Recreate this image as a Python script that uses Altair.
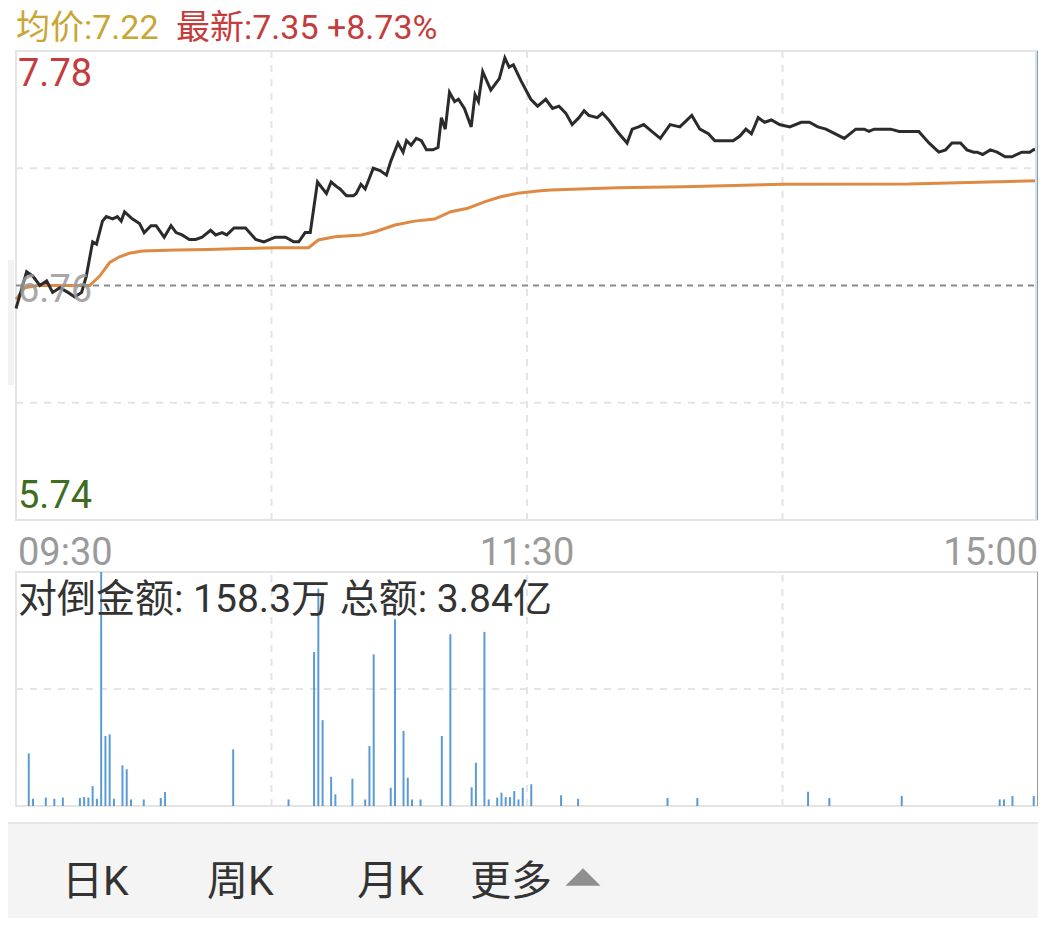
import altair as alt
import pandas as pd

# ---------------- data ----------------
price_min = [0, 2.5, 4.0, 5.6, 7.2, 8.6, 10.3, 12.2, 13.8, 15.4, 16.5, 18.0, 18.9, 20.3, 21.2, 22.7, 23.8, 24.7,
             25.5, 27.3, 29.0, 30.1, 31.7, 32.9, 34.8, 36.4, 37.6, 39.0, 40.7, 42.2, 43.7, 45.7, 46.9, 48.4, 49.5,
             51.2, 53.9, 56.3, 58.2, 60.9, 63.3, 65.2, 66.4, 67.9, 69.1, 70.8, 72.9, 74.0, 75.3, 76.1, 77.6, 79.2,
             79.9, 81.0, 82.0, 83.9, 85.5, 87.0, 88.0, 89.7, 90.9, 91.7, 92.8, 94.0, 95.2, 96.4, 97.9, 99.1, 99.9,
             100.8, 101.8, 103.0, 103.9, 105.3, 106.9, 107.8, 108.6, 109.6, 111.5, 113.5, 114.8, 115.8, 116.8,
             118.6, 120.9, 122.5, 124.4, 126.0, 127.5, 129.1, 130.6, 132.2, 133.4, 134.5, 136.5, 137.7, 139.2,
             141.2, 143.5, 144.7, 146.2, 147.4, 149.3, 151.3, 153.6, 155.9, 158.7, 160.6, 162.6, 164.1, 166.1,
             168.4, 170.0, 171.4, 172.7, 174.3, 175.8, 177.4, 179.3, 181.7, 184.4, 186.3, 188.3, 190.2, 194.5,
             197.2, 199.2, 200.3, 201.5, 205.4, 207.4, 208.5, 209.3, 210.1, 212.0, 214.4, 216.7, 218.3, 219.8,
             221.8, 223.3, 224.9, 225.7, 227.0, 228.8, 230.4, 232.3, 233.9, 236.2, 238.1, 238.9, 240]
price_val = [6.66, 6.82, 6.80, 6.76, 6.78, 6.73, 6.75, 6.73, 6.71, 6.73, 6.80, 6.95, 6.94, 7.04, 7.06, 7.05, 7.06, 7.04,
             7.08, 7.05, 7.03, 6.99, 7.02, 7.02, 6.97, 7.02, 6.99, 6.98, 6.96, 6.96, 6.97, 7.00, 6.98, 6.99, 6.98,
             7.01, 7.01, 6.96, 6.95, 6.97, 6.97, 6.95, 6.95, 6.99, 6.99, 7.21, 7.16, 7.21, 7.19, 7.18, 7.15, 7.15,
             7.16, 7.20, 7.18, 7.27, 7.26, 7.24, 7.30, 7.38, 7.34, 7.39, 7.37, 7.40, 7.39, 7.35, 7.35, 7.36, 7.49,
             7.44, 7.60, 7.56, 7.57, 7.53, 7.45, 7.59, 7.56, 7.69, 7.61, 7.66, 7.75, 7.71, 7.72,
             7.65, 7.57, 7.54, 7.57, 7.53, 7.54, 7.51, 7.46, 7.49, 7.52, 7.50, 7.49, 7.51, 7.48,
             7.43, 7.38, 7.44, 7.45, 7.46, 7.43, 7.40, 7.46, 7.45, 7.50, 7.44, 7.42, 7.39, 7.39,
             7.39, 7.41, 7.44, 7.42, 7.49, 7.47, 7.48, 7.46, 7.45, 7.47, 7.47, 7.45, 7.44, 7.40,
             7.44, 7.44, 7.43, 7.44, 7.44, 7.43, 7.43, 7.43, 7.43, 7.43, 7.38, 7.34, 7.35, 7.38,
             7.38, 7.35, 7.34, 7.34, 7.33, 7.35, 7.34, 7.32, 7.32, 7.34, 7.34, 7.35, 7.35]

avg_min = [0, 2, 5, 17.3, 19.6, 22.0, 24.3, 26.6, 29.7, 37.6, 45.3, 53.0, 61.0, 68.7, 71.0, 74.9, 81.1, 84.3,
           89.0, 93.6, 98.3, 102.1, 106.1, 110.0, 113.8, 117.8, 122.5, 125.5, 141.2, 156.7, 180.1, 209.6, 240]
avg_val = [6.70, 6.75, 6.76, 6.76, 6.80, 6.86, 6.885, 6.90, 6.91, 6.914, 6.917, 6.921, 6.924, 6.924, 6.958,
           6.972, 6.98, 6.994, 7.023, 7.04, 7.049, 7.081, 7.096, 7.124, 7.146, 7.161, 7.171, 7.175, 7.185,
           7.19, 7.20, 7.201, 7.216]

vol_min = [3, 4, 7, 9, 11, 15, 16, 17, 18, 19, 20, 21, 22, 23, 25, 26, 27, 30, 34, 35, 51, 64, 70, 71, 72, 74, 75,
           79, 82, 83, 84, 88, 89, 91, 92, 93, 95, 100, 102, 107, 108, 110, 111, 113, 114, 115, 116, 117, 118,
           119, 121, 128, 132, 153, 160, 186, 191, 208, 231, 232, 234, 239]
vol_val = [22.5, 3.1, 3.6, 3.1, 3.6, 3.4, 3.8, 3.6, 8.5, 3.1, 100, 29.9, 30.6, 3.1, 17.4, 15.7, 2.8, 2.8, 3.4,
           6.0, 24.2, 2.8, 65.8, 92.9, 36.7, 12.5, 5.0, 11.7, 2.8, 25.6, 64.8, 7.8, 79.8, 32.1, 12.1, 2.8, 2.8,
           29.9, 73.4, 8.0, 18.5, 74.4, 2.8, 3.6, 5.7, 3.8, 3.8, 6.4, 2.8, 7.8, 9.3, 4.6, 3.1, 3.4, 3.4, 6.1,
           3.4, 4.3, 2.8, 2.8, 4.3, 4.3]

time_ticks = [0, 120, 240]
time_labels = ["09:30", "11:30", "15:00"]
price_top, price_mid, price_bot = 7.78, 6.76, 5.74
price_grid = [7.27, 6.25]
minute_grid = [60, 120, 180]

header_avg = "均价:7.22"
header_last = "最新:7.35 +8.73%"
vol_title = "对倒金额: 158.3万 总额: 3.84亿"
tabs = ["日K", "周K", "月K", "更多"]

# ---------------- layout ----------------
W, H = 1022, 755
PH = 469            # price panel height (pixels)
VT, VB = 521, 755   # volume panel top / bottom (pixels)
FONT = "Roboto, 'Noto Sans CJK SC', sans-serif"

xs = alt.Scale(domain=[0, 240], range=[0, W], nice=False, zero=False)
ps = alt.Scale(domain=[price_bot, price_top], range=[PH, 0], nice=False, zero=False)
vs = alt.Scale(domain=[0, 100], range=[VB, VT], nice=False, zero=False)

price_df = pd.DataFrame({"m": price_min, "p": price_val})
avg_df = pd.DataFrame({"m": avg_min, "p": avg_val})
vol_df = pd.DataFrame({"m": vol_min, "v": vol_val, "z": [0] * len(vol_min)})

layers = []

# footer bar
layers.append(alt.Chart(pd.DataFrame({"a": [0]})).mark_rect(color="#f4f4f4").encode(
    x=alt.value(-8), x2=alt.value(W + 10), y=alt.value(772), y2=alt.value(880)))
layers.append(alt.Chart(pd.DataFrame({"a": [0]})).mark_rule(color="#e6e6e6", strokeWidth=2).encode(
    x=alt.value(-8), x2=alt.value(W + 10), y=alt.value(772)))
layers.append(alt.Chart(pd.DataFrame({"a": [0]})).mark_rect(color="#f2f2f2").encode(
    x=alt.value(-8), x2=alt.value(-2), y=alt.value(209), y2=alt.value(334)))

# panel frames
frame_p = pd.DataFrame({"x0": [0], "x1": [240], "y0": [price_bot], "y1": [price_top]})
layers.append(alt.Chart(frame_p).mark_rect(fillOpacity=0, stroke="#e4e4e4", strokeWidth=2).encode(
    x=alt.X("x0:Q", scale=xs, axis=None), x2="x1:Q",
    y=alt.Y("y0:Q", scale=ps, axis=None), y2="y1:Q"))
frame_v = pd.DataFrame({"x0": [0], "x1": [240], "y0": [0], "y1": [100]})
layers.append(alt.Chart(frame_v).mark_rect(fillOpacity=0, stroke="#e4e4e4", strokeWidth=2).encode(
    x=alt.X("x0:Q", scale=xs, axis=None), x2="x1:Q",
    y=alt.Y("y0:Q", scale=vs, axis=None), y2="y1:Q"))

# grid lines
layers.append(alt.Chart(pd.DataFrame({"p": price_grid})).mark_rule(
    color="#e4e4e4", strokeWidth=2, strokeDash=[7, 7]).encode(
    x=alt.value(0), x2=alt.value(W), y=alt.Y("p:Q", scale=ps, axis=None)))
layers.append(alt.Chart(pd.DataFrame({"v": [50]})).mark_rule(
    color="#e4e4e4", strokeWidth=2, strokeDash=[7, 7]).encode(
    x=alt.value(0), x2=alt.value(W), y=alt.Y("v:Q", scale=vs, axis=None)))
vg = pd.DataFrame({"m": minute_grid, "a": [price_bot] * 3, "b": [price_top] * 3})
layers.append(alt.Chart(vg).mark_rule(color="#e4e4e4", strokeWidth=2, strokeDash=[7, 7]).encode(
    x=alt.X("m:Q", scale=xs, axis=None), y=alt.Y("a:Q", scale=ps, axis=None), y2="b:Q"))
vg2 = pd.DataFrame({"m": minute_grid, "a": [0] * 3, "b": [100] * 3})
layers.append(alt.Chart(vg2).mark_rule(color="#e4e4e4", strokeWidth=2, strokeDash=[7, 7]).encode(
    x=alt.X("m:Q", scale=xs, axis=None), y=alt.Y("a:Q", scale=vs, axis=None), y2="b:Q"))
layers.append(alt.Chart(pd.DataFrame({"p": [price_mid]})).mark_rule(
    color="#8a8a8a", strokeWidth=2, strokeDash=[6, 5]).encode(
    x=alt.value(0), x2=alt.value(W), y=alt.Y("p:Q", scale=ps, axis=None)))

# volume bars
layers.append(alt.Chart(vol_df).mark_rule(color="#5b9bd5", strokeWidth=2).encode(
    x=alt.X("m:Q", scale=xs, axis=None),
    y=alt.Y("z:Q", scale=vs, axis=None), y2="v:Q"))

# average & price lines
layers.append(alt.Chart(avg_df).mark_line(color="#de8a45", strokeWidth=3).encode(
    x=alt.X("m:Q", scale=xs, axis=None), y=alt.Y("p:Q", scale=ps, axis=None)))
layers.append(alt.Chart(price_df).mark_line(color="#2b2b2b", strokeWidth=3).encode(
    x=alt.X("m:Q", scale=xs, axis=None), y=alt.Y("p:Q", scale=ps, axis=None)))

# cursor at the right edge
cur = pd.DataFrame({"m": [240], "a": [price_bot], "b": [price_top]})
layers.append(alt.Chart(cur).mark_rule(color="#c9e5f8", strokeWidth=6).encode(
    x=alt.X("m:Q", scale=xs, axis=None), y=alt.Y("a:Q", scale=ps, axis=None), y2="b:Q"))
layers.append(alt.Chart(cur).mark_rule(color="#9a9a9a", strokeWidth=2).encode(
    x=alt.X("m:Q", scale=xs, axis=None), y=alt.Y("a:Q", scale=ps, axis=None), y2="b:Q"))
cur2 = pd.DataFrame({"m": [240], "a": [0], "b": [100]})
layers.append(alt.Chart(cur2).mark_rule(color="#9a9a9a", strokeWidth=2).encode(
    x=alt.X("m:Q", scale=xs, axis=None), y=alt.Y("a:Q", scale=vs, axis=None), y2="b:Q"))

# price labels
def ptxt(val, label, color, baseline, dy, opacity=1.0):
    return alt.Chart(pd.DataFrame({"p": [val], "t": [label]})).mark_text(
        font=FONT, fontSize=38, color=color, align="left", baseline=baseline, dy=dy,
        opacity=opacity).encode(
        x=alt.value(2), y=alt.Y("p:Q", scale=ps, axis=None), text="t:N")

layers.append(ptxt(price_top, f"{price_top:.2f}", "#c43c3c", "top", 5))
layers.append(ptxt(price_mid, f"{price_mid:.2f}", "#9a9a9a", "middle", 5, 0.85))
layers.append(ptxt(price_bot, f"{price_bot:.2f}", "#3e6d1f", "alphabetic", -12))

# time labels
for m, lab, al in zip(time_ticks, time_labels, ["left", "center", "right"]):
    layers.append(alt.Chart(pd.DataFrame({"m": [m], "t": [lab]})).mark_text(
        font=FONT, fontSize=38, color="#9a9a9a", align=al, baseline="alphabetic",
        dx=2 if al == "left" else 0).encode(
        x=alt.X("m:Q", scale=xs, axis=None), y=alt.value(514), text="t:N"))

# header texts
def vtxt(txt, x, y, color, size, align="left"):
    return alt.Chart(pd.DataFrame({"t": [txt]})).mark_text(
        font=FONT, fontSize=size, color=color, align=align, baseline="alphabetic").encode(
        x=alt.value(x), y=alt.value(y), text="t:N")

layers.append(vtxt(header_avg, 0, -12, "#c9a534", 34))
layers.append(vtxt(header_last, 160, -12, "#c43c3c", 34))
layers.append(vtxt(vol_title, 2, 561, "#333333", 39))

# footer tabs
for t, x in zip(tabs, [46, 191, 341, 454]):
    layers.append(vtxt(t, x, 844, "#333333", 41))
layers.append(alt.Chart(pd.DataFrame({"a": [0]})).mark_point(
    shape="M -1 0.5 L 1 0.5 L 0 -0.5 Z", filled=True, color="#8f8f8f", size=1225, opacity=1).encode(
    x=alt.value(567), y=alt.value(826)))

chart = alt.layer(*layers).resolve_scale(y="independent").properties(
    width=W, height=H,
    autosize=alt.AutoSizeParams(type="none"),
    padding={"left": 8, "top": 43, "right": 0, "bottom": 112},
).configure_view(stroke=None)

chart.save("out.html", embed_options={"renderer": "svg", "actions": False})
